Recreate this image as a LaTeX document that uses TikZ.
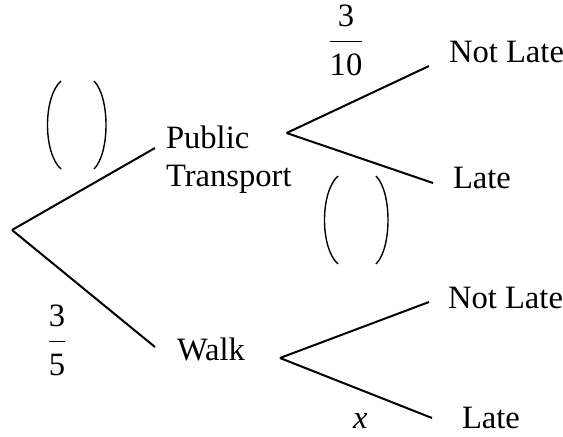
\documentclass[tikz,border=0pt]{standalone}
\usepackage{amsmath}
\usepackage{fontspec}
\setmainfont{Liberation Serif}
\usetikzlibrary{calc}

\tikzset{
	outcome/.style={anchor=base west, inner sep=0pt},
	prob/.style={anchor=base, inner sep=0pt},
	blank/.style={minimum height=43pt, inner sep=0pt},
}

%two empty brackets round a blank node
\newcommand{\emptyparen}[1]{%
	\draw[line width=0.7pt] ($(#1.north west)+(14,0)$) .. controls ($(#1.north west)+(-4,16)$) and ($(#1.south west)+(-4,-16)$) .. ($(#1.south west)+(14,0)$);
	\draw[line width=0.7pt] ($(#1.north east)+(-12,0)$) .. controls ($(#1.north east)+(4,16)$) and ($(#1.south east)+(4,-16)$) .. ($(#1.south east)+(-12,0)$);
}
%fraction with the denominator pushed down a little
\newcommand{\treefrac}[2]{$\dfrac{\text{#1}}{\text{\rule{0pt}{14.6pt}#2}}$}

\begin{document}
\begin{tikzpicture}[x=0.5pt, y=-0.5pt, line width=1pt, font=\fontsize{16.3}{19}\selectfont]
				\useasboundingbox (0,0) rectangle (563,436);
				
				%Level 1
				\coordinate (root) at (12,230);
				
				%Level 2
				\node[outcome, align=left] (pubtrans) at (165,186) {Public\\Transport};
				\node[outcome] (walk) at (176,360) {Walk};
				
				%Lines
				\draw (root) -- ($(pubtrans.base west)+(-10,-38)$);
				\draw (root) -- ($(walk.base west)+(-21,-13)$);
				
				%Level 3
				\node[outcome] (ptnotlate) at (448,62) {Not Late};
				\node[outcome] (ptlate) at (452,188) {Late};
				\node[outcome] (wnotlate) at (447,308) {Not Late};
				\node[outcome] (wlate) at (461,428) {Late};
				
				%Lines
				\coordinate (ptsplit) at ($(pubtrans.base east)+(-6,-53)$);
				\coordinate (wsplit) at ($(walk.base east)+(34,-2)$);
				\draw (ptsplit) -- ($(ptnotlate.base west)+(-19,4)$);
				\draw (ptsplit) -- ($(ptlate.base west)+(-19,-5)$);
				\draw (wsplit) -- ($(wnotlate.base west)+(-18,-6)$);
				\draw (wsplit) -- ($(wlate.base west)+(-29,-10)$);
				
				%Probabilities
				\node[prob] (ptnotlateprob) at (346,50) {\treefrac{3}{10}};
				\node[prob] (walkprob) at (57,350) {\treefrac{3}{5}};
				\node[outcome] (wlateprob) at (352,428) {\textit{x}};
				
				%Blanks
				\node[blank, minimum width=28.5pt] (pubtransprob) at (76.5,125) {};
				\node[blank, minimum width=31pt] (ptlateprob) at (356,220) {};
				\emptyparen{pubtransprob}
				\emptyparen{ptlateprob}
\end{tikzpicture}
\end{document}
